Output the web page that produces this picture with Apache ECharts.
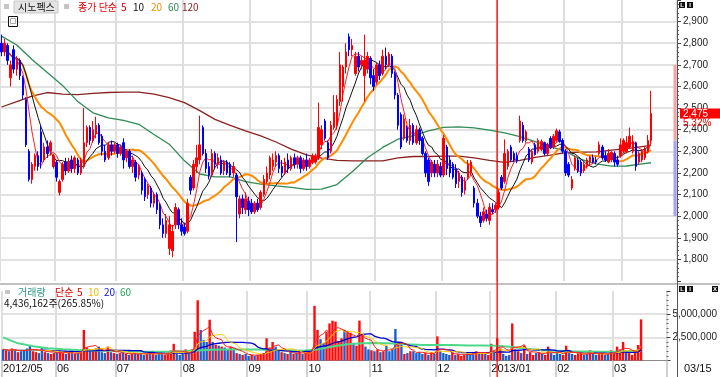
<!DOCTYPE html>
<html>
<head>
<meta charset="utf-8">
<script src="https://cdn.jsdelivr.net/npm/echarts@6/dist/echarts.min.js"></script>
<style>
html, body { margin: 0; padding: 0; background: #fff; }
#chart { width: 720px; height: 377px; }
</style>
</head>
<body>
<div id="chart"></div>
<script>
// 월 라벨과 월별 거래일 수
const monthLabels = ['2012/05', '06', '07', '08', '09', '10', '11', '12', '2013/01', '02', '03'];
const monthDays = [18, 20, 22, 22, 20, 21, 22, 18, 22, 19, 10];
const blankSlots = 8; // 마지막 봉 뒤 여백

// 일봉 [시가, 종가, 저가, 고가]
const candles = [
  // 2012/05
  [2800,2760,2740,2840],[2760,2800,2740,2820],[2790,2720,2700,2800],[2640,2700,2600,2720],[2770,2680,2660,2790],
  [2680,2720,2650,2740],[2720,2650,2630,2730],[2640,2560,2540,2650],[2540,2330,2320,2550],[2300,2170,2160,2310],
  [2170,2240,2150,2250],[2230,2280,2210,2290],[2280,2230,2210,2300],[2390,2250,2220,2420],[2260,2320,2250,2340],
  [2320,2290,2270,2350],[2300,2340,2280,2350],[2230,2280,2220,2290],
  // 06
  [2250,2180,2160,2260],[2110,2160,2095,2170],[2170,2240,2160,2250],[2250,2210,2190,2270],[2210,2250,2200,2270],
  [2260,2220,2200,2280],[2220,2270,2200,2280],[2260,2200,2190,2270],[2200,2260,2190,2270],[2230,2340,2220,2500],
  [2340,2410,2320,2420],[2410,2350,2330,2420],[2350,2400,2340,2440],[2380,2420,2360,2460],[2420,2340,2330,2430],
  [2370,2300,2280,2380],[2300,2260,2250,2330],[2270,2330,2260,2340],[2330,2300,2280,2350],[2300,2330,2290,2340],
  // 07
  [2330,2290,2270,2340],[2290,2320,2280,2330],[2340,2260,2220,2360],[2270,2300,2250,2310],[2300,2230,2220,2310],
  [2230,2260,2200,2280],[2250,2180,2160,2260],[2190,2230,2170,2240],[2200,2120,2100,2210],[2170,2090,2070,2180],
  [2100,2140,2080,2150],[2130,2060,2040,2140],[2060,2100,2040,2110],[2100,2030,2010,2110],[2050,1960,1940,2060],
  [1960,1920,1900,1990],[1920,1980,1900,2010],[1850,1960,1820,2000],[1840,1930,1810,1960],[1960,2040,1940,2060],
  [2030,1960,1940,2040],[1960,1930,1910,1990],
  // 08
  [1950,1920,1910,1970],[1930,2060,1920,2080],[2180,2120,2100,2190],[2130,2240,2120,2260],[2230,2270,2200,2330],
  [2260,2330,2240,2465],[2410,2290,2280,2420],[2290,2220,2200,2310],[2230,2190,2170,2250],[2190,2290,2180,2310],
  [2290,2240,2220,2300],[2240,2270,2220,2290],[2260,2200,2190,2280],[2210,2250,2190,2260],[2250,2200,2190,2260],
  [2240,2190,2180,2250],[2200,2230,2180,2250],[2190,2090,1880,2200],[2010,2080,1990,2095],[2080,2040,2010,2100],
  [2030,2080,2010,2110],[2070,2030,2000,2090],
  // 09
  [2060,2020,2010,2080],[2020,2060,2010,2070],[2060,2030,2020,2080],[2040,2110,2030,2120],[2100,2170,2090,2190],
  [2160,2200,2150,2230],[2190,2270,2170,2280],[2230,2260,2210,2290],[2250,2280,2230,2300],[2280,2220,2200,2290],
  [2230,2200,2180,2260],[2200,2250,2190,2270],[2260,2220,2200,2290],[2220,2270,2210,2280],[2270,2240,2220,2290],
  [2240,2270,2220,2280],[2270,2220,2200,2280],[2220,2260,2210,2270],[2260,2230,2210,2290],[2230,2260,2220,2270],
  // 10
  [2250,2280,2240,2290],[2250,2280,2240,2290],[2270,2410,2260,2525],[2330,2400,2310,2420],[2440,2360,2350,2450],
  [2340,2270,2260,2350],[2300,2420,2290,2440],[2410,2480,2400,2560],[2420,2540,2400,2560],[2530,2700,2510,2760],
  [2600,2690,2530,2700],[2690,2760,2660,2800],[2830,2770,2740,2845],[2770,2790,2740,2820],[2660,2740,2650,2760],
  [2740,2690,2670,2760],[2700,2720,2680,2740],[2650,2720,2530,2840],[2680,2740,2660,2760],[2730,2640,2610,2740],
  [2650,2600,2580,2680],
  // 11
  [2620,2700,2610,2710],[2700,2650,2630,2720],[2660,2740,2650,2770],[2740,2700,2680,2780],[2700,2750,2690,2760],
  [2740,2660,2640,2750],[2660,2560,2540,2670],[2560,2420,2400,2570],[2470,2320,2310,2480],[2360,2450,2350,2470],
  [2410,2350,2340,2420],[2350,2420,2330,2450],[2420,2340,2330,2430],[2340,2400,2330,2420],[2400,2350,2330,2410],
  [2360,2290,2280,2370],[2290,2200,2180,2300],[2260,2160,2140,2270],[2200,2250,2180,2260],[2240,2200,2180,2260],
  [2200,2240,2180,2260],[2230,2190,2180,2250],
  // 12
  [2190,2360,2180,2375],[2320,2220,2190,2330],[2260,2200,2180,2280],[2240,2180,2170,2250],[2220,2150,2130,2240],
  [2160,2200,2130,2210],[2180,2110,2090,2190],[2120,2160,2100,2180],[2180,2240,2170,2260],[2200,2250,2190,2260],
  [2130,2060,2040,2140],[2060,2000,1990,2080],[2000,1970,1950,2020],[1980,2020,1970,2040],[2010,1990,1975,2030],
  [1980,2040,1960,2060],[2030,2020,2010,2060],[2030,2050,2015,2060],
  // 2013/01
  [2040,2110,2030,2124],[2180,2130,2120,2190],[2160,2290,2150,2355],[2230,2300,2215,2310],[2320,2260,2250,2330],
  [2290,2260,2250,2300],[2280,2255,2245,2295],[2350,2440,2340,2465],[2420,2350,2340,2435],[2350,2390,2340,2400],
  [2310,2260,2250,2320],[2250,2300,2240,2310],[2330,2285,2280,2340],[2300,2350,2290,2360],[2310,2345,2300,2355],
  [2340,2290,2280,2345],[2290,2330,2280,2340],[2360,2315,2310,2370],[2320,2370,2310,2380],[2350,2395,2340,2405],
  [2390,2345,2340,2400],[2350,2300,2290,2360],
  // 02
  [2300,2200,2186,2310],[2240,2190,2180,2250],[2130,2170,2120,2186],[2220,2270,2210,2280],[2260,2210,2200,2270],
  [2250,2200,2185,2260],[2210,2240,2200,2250],[2230,2260,2220,2270],[2250,2275,2235,2280],[2270,2250,2245,2285],
  [2260,2250,2240,2275],[2290,2330,2280,2345],[2320,2270,2260,2330],[2280,2260,2250,2300],[2250,2290,2245,2310],
  [2260,2295,2250,2300],[2290,2250,2230,2300],[2260,2240,2230,2280],[2280,2330,2270,2360],
  // 03
  [2300,2350,2290,2360],[2300,2340,2290,2370],[2320,2370,2310,2410],[2300,2345,2290,2375],[2340,2230,2210,2345],
  [2250,2290,2240,2300],[2260,2300,2250,2310],[2270,2310,2260,2320],[2300,2350,2290,2375],[2350,2475,2340,2580]
];

// 거래량 (천주)
const volumesK = [
  1200,1100,1000,1300,1100, 900,1000,1100,1300,1600, 1000,900,800,1400,900, 800,700,800,
  900,1000, 800,700,800,900,700, 800,900,3300,1400,1200, 1000,1300,1500,900,800, 1500,900,800,
  700,800, 900,700,600,700,800, 700,800,600,700,900, 700,600,800,700,600, 900,1100,1800,700,600,
  700,1200,900,1200,3100, 6500,3300,2200,2000,4400, 2000,1700,1600,1500,1400, 1200,1500,1300,800,700, 600,700,
  500,600,500, 600,700,800,2400,1400, 2000,1500,1100,900,800, 700,900,700,800,1000, 700,800,
  900,1100,5900, 3300,2300,1900,3100,4000, 4300,4200,2100,2400,3300, 3200,3000,1900,1600,4300, 2800,1500,1200,
  1100,1000, 1200,900,1000,1600,1000, 1300,3400,1700,2000,700, 800,1000,1000,800,900, 700,800,600,900,700,
  2600,1000,800,700,600, 900,600,700,500,600, 800,700,900,1000,900, 800,700,600,
  1800,1100, 2400,1300,700,500,600, 4000,1200,1000,800,1600, 700,900,600,800,900, 700,600,1500,800,600,
  900,700,600,1600,800, 700,600,800,700,600, 700,1100,700,600,800, 700,600,700,1100,
  900, 1500,1200,2000,900,800, 600,800,1668.671,4436.162
];

// 장기 이평 (그림에서 읽은 값, 5일 간격)
const maSampleDays = [0,5,10,15,20,25,30,35,40,45,50,55,60,65,70,75,80,85,90,95,100,105,110,115,120,125,130,135,140,145,150,155,160,165,170,175,180,185,190,195,200,205,210,213];
const ma60Read = [2833,2792,2725,2665,2605,2530,2478,2455,2443,2425,2378,2333,2256,2195,2182,2182,2160,2148,2140,2133,2124,2125,2146,2205,2270,2318,2356,2372,2394,2411,2413,2408,2398,2385,2368,2345,2322,2300,2263,2242,2231,2232,2242,2247];
const ma120Read = [2505,2530,2555,2572,2565,2562,2568,2572,2574,2574,2565,2548,2525,2488,2448,2420,2395,2371,2343,2310,2284,2268,2258,2256,2256,2256,2270,2276,2276,2278,2278,2270,2258,2249,2258,2272,2282,2294,2296,2297,2305,2312,2322,2327];
const volMa60ReadK = [2500,1850,1550,1330,1220,1130,1090,1050,1000,960,950,950,1000,1080,1170,1200,1200,1180,1130,1100,1060,1200,1500,1750,1860,1900,1830,1750,1680,1660,1660,1630,1620,1600,1450,1270,1100,1050,1000,980,950,980,1020,1050];

const stockName = '시노펙스';
const volumeInfo = '4,436,162주(265.85%)';
const lastDate = '03/15';
const prevClose = 2350, upperLimit = 2700, lowerLimit = 2000;

// 카테고리 만들기
const dayLabels = [];
const monthStarts = new Set();
monthLabels.forEach((m, k) => {
  for (let d = 0; d < monthDays[k]; d++) {
    if (d === 0) monthStarts.add(dayLabels.length);
    dayLabels.push(d === 0 ? m : '');
  }
});
for (let i = 0; i < blankSlots; i++) dayLabels.push('');
const categories = dayLabels.map((l, i) => 'd' + i);
const janIdx = dayLabels.indexOf('2013/01');

const closes = candles.map(c => c[1]);
const volumes = volumesK.map(v => Math.round(v * 1000));
const lastClose = closes[closes.length - 1];
const changePct = ((lastClose - prevClose) / prevClose * 100).toFixed(2) + '%';

function movingAvg(vals, n) {
  return vals.map((v, i) => {
    const s = vals.slice(Math.max(0, i - n + 1), i + 1);
    return s.reduce((a, b) => a + b, 0) / s.length;
  });
}

const isMonth = (i) => monthStarts.has(i);
const numFont = '"Liberation Sans", Arial, sans-serif';
const krFont = '"Noto Sans CJK KR", sans-serif';

function maLine(name, data, color, width, xi, yi) {
  return {
    name: name, type: 'line', xAxisIndex: xi, yAxisIndex: yi,
    data: data, symbol: 'none', smooth: false, connectNulls: true,
    lineStyle: { color: color, width: width }, z: 3, silent: true
  };
}

const option = {
  backgroundColor: '#ffffff',
  animation: false,
  grid: [
    { left: 0, right: 43, top: 0, height: 281 },
    { left: 0, right: 43, top: 291, height: 69.5 }
  ],
  xAxis: [
    {
      type: 'category', gridIndex: 0, data: categories, boundaryGap: true,
      axisLine: { show: false }, axisTick: { show: false }, axisLabel: { show: false },
      splitLine: { show: true, interval: isMonth, lineStyle: { color: '#dedede', width: 2 } }
    },
    {
      type: 'category', gridIndex: 1, data: categories, boundaryGap: true,
      axisLine: { show: true, lineStyle: { color: '#8a8a8a', width: 1 } },
      axisTick: { show: true, interval: isMonth, length: 17, lineStyle: { color: '#d0d0d0', width: 2 } },
      axisLabel: {
        show: true, interval: isMonth, align: 'left', margin: 3,
        formatter: (v, i) => dayLabels[i], color: '#111', fontSize: 11, fontFamily: numFont
      },
      splitLine: { show: true, interval: isMonth, lineStyle: { color: '#dedede', width: 2 } }
    }
  ],
  yAxis: [
    {
      type: 'value', gridIndex: 0, position: 'right', min: 1700, max: 3000, interval: 100,
      axisLine: { show: false },
      axisTick: { show: true, length: 4, lineStyle: { color: '#444' } },
      minorTick: { show: true, splitNumber: 5, length: 2, lineStyle: { color: '#666' } },
      axisLabel: {
        show: true, margin: 6, color: '#222', fontSize: 10, fontFamily: numFont,
        showMinLabel: false, showMaxLabel: false,
        formatter: v => v.toLocaleString('en-US')
      },
      splitLine: { show: true, showMinLine: false, showMaxLine: false, lineStyle: { color: '#e2e2e2', width: 2 } }
    },
    {
      type: 'value', gridIndex: 1, position: 'right', min: 0, max: 7500000, interval: 2500000,
      axisLine: { show: false },
      axisTick: { show: true, length: 4, lineStyle: { color: '#444' } },
      minorTick: { show: true, splitNumber: 5, length: 2, lineStyle: { color: '#666' } },
      axisLabel: {
        show: true, margin: 6, color: '#222', fontSize: 10, fontFamily: numFont,
        formatter: v => (v === 0 || v === 7500000) ? '' : v.toLocaleString('en-US')
      },
      splitLine: { show: true, showMinLine: false, showMaxLine: false, lineStyle: { color: '#e2e2e2', width: 2 } }
    }
  ],
  series: [
    {
      name: stockName, type: 'candlestick', xAxisIndex: 0, yAxisIndex: 0,
      data: candles, barWidth: 2, z: 4,
      itemStyle: { color: '#ff0000', color0: '#0000ff', borderColor: '#ff0000', borderColor0: '#0000ff', borderWidth: 1 }
    },
    maLine('MA120', maSampleDays.map((d, k) => [d, ma120Read[k]]), '#8b2222', 1.3, 0, 0),
    maLine('MA60', maSampleDays.map((d, k) => [d, ma60Read[k]]), '#2e8b57', 1.3, 0, 0),
    maLine('MA20', movingAvg(closes, 20), '#ff8c00', 2, 0, 0),
    maLine('MA10', movingAvg(closes, 10), '#111111', 1, 0, 0),
    maLine('MA5', movingAvg(closes, 5), '#ff2020', 1, 0, 0),
    {
      name: '거래량', type: 'bar', xAxisIndex: 1, yAxisIndex: 1, barWidth: 2.4,
      data: volumes.map((v, i) => ({
        value: v,
        itemStyle: { color: candles[i][1] >= candles[i][0] ? '#ff0a0a' : '#1a5fd0' }
      }))
    },
    maLine('VMA60', maSampleDays.map((d, k) => [d, volMa60ReadK[k] * 1000]), '#4cd88a', 2, 1, 1),
    maLine('VMA20', movingAvg(volumes, 20), '#0000cc', 1.3, 1, 1),
    maLine('VMA10', movingAvg(volumes, 10), '#ffcc00', 1, 1, 1),
    maLine('VMA5', movingAvg(volumes, 5), '#ff2020', 1, 1, 1)
  ]
};

const chart = echarts.init(document.getElementById('chart'));
chart.setOption(option);

const py = v => chart.convertToPixel({ yAxisIndex: 0 }, v);
const janX = chart.convertToPixel({ xAxisIndex: 0 }, janIdx) - 1.5;
const axisX = 677;

function txt(x, y, text, fill, size, family, extra) {
  return {
    type: 'text', x: x, y: y, z: 20,
    style: Object.assign({ text: text, fill: fill, font: (size || 10) + 'px ' + (family || krFont), verticalAlign: 'middle' }, extra || {})
  };
}
function iconBox(x, y, letter) {
  return [
    { type: 'rect', z: 20, shape: { x: x, y: y, width: 6, height: 6 }, style: { fill: '#111' } },
    txt(x + 3, y + 3.2, letter, '#fff', 6, numFont, { align: 'center', font: 'bold 6px ' + numFont })
  ];
}

const graphics = [
  // 패널 구분선, 오른쪽 축선
  { type: 'rect', z: 15, shape: { x: 0, y: 283, width: 720, height: 2 }, style: { fill: '#c2c2c2' } },
  { type: 'line', z: 15, shape: { x1: axisX + 0.5, y1: 0, x2: axisX + 0.5, y2: 377 }, style: { stroke: '#555', lineWidth: 1 } },
  // 2013년 시작 세로선
  { type: 'rect', z: 16, shape: { x: janX - 0.6, y: 0, width: 1.3, height: 377 }, style: { fill: '#ff0000' } },
  // 상하한가 막대
  { type: 'rect', z: 12, shape: { x: 673.5, y: py(upperLimit), width: 3, height: py(prevClose) - py(upperLimit) }, style: { fill: '#f4a4a4' } },
  { type: 'rect', z: 12, shape: { x: 673.5, y: py(prevClose), width: 3, height: py(lowerLimit) - py(prevClose) }, style: { fill: '#a4a4f2' } },
  // 현재가 라벨
  { type: 'rect', z: 20, shape: { x: 680, y: py(lastClose) - 5, width: 40, height: 10 }, style: { fill: '#ff0000' } },
  txt(683, py(lastClose) + 0.5, lastClose.toLocaleString('en-US'), '#ffffff', 10, numFont),
  txt(683, py(lastClose) + 10, changePct, '#ff0000', 10, numFont),
  // 상단 범례
  { type: 'rect', z: 20, shape: { x: 4, y: 4, width: 5, height: 5 }, style: { fill: '#c4c4c4' } },
  { type: 'rect', z: 20, shape: { x: 14, y: 1, width: 44, height: 12 }, style: { fill: '#e4e4e4', stroke: '#c8c8c8', lineWidth: 1 } },
  txt(18, 7, stockName, '#111', 10),
  { type: 'rect', z: 20, shape: { x: 64, y: 4, width: 5, height: 5 }, style: { fill: '#c4c4c4' } },
  txt(78, 7, '종가 단순', '#e00000', 10),
  txt(121, 7, '5', '#e00000', 10),
  txt(133, 7, '10', '#111111', 10),
  txt(151, 7, '20', '#f08c00', 10),
  txt(168, 7, '60', '#2e8b57', 10),
  txt(182, 7, '120', '#8b2222', 10),
  // 체크박스
  { type: 'rect', z: 20, shape: { x: 8.5, y: 16.5, width: 9, height: 10 }, style: { fill: '#fff', stroke: '#111', lineWidth: 1 } },
  { type: 'rect', z: 21, shape: { x: 10.5, y: 18.5, width: 5, height: 5 }, style: { fill: '#fff', stroke: '#aaa', lineWidth: 1 } },
  // 거래량 범례
  { type: 'rect', z: 20, shape: { x: 5, y: 290, width: 5, height: 4 }, style: { fill: '#c4c4c4' } },
  txt(18, 292, '거래량', '#2f9a8c', 10),
  txt(55, 292, '단순', '#e00000', 10),
  txt(77, 292, '5', '#e00000', 10),
  txt(88, 292, '10', '#f5b800', 10),
  txt(104, 292, '20', '#1010ee', 10),
  txt(120, 292, '60', '#22aa55', 10),
  txt(4, 303.5, volumeInfo, '#111', 10),
  // 날짜
  txt(684, 369, lastDate, '#111', 11, numFont)
];
iconBox(679, 2, 'L').forEach(g => graphics.push(g));
iconBox(687, 2, 'I').forEach(g => graphics.push(g));
iconBox(679, 286, 'L').forEach(g => graphics.push(g));
iconBox(687, 286, 'I').forEach(g => graphics.push(g));
iconBox(712, 286, 'X').forEach(g => graphics.push(g));

chart.setOption({ graphic: graphics });
</script>
</body>
</html>
